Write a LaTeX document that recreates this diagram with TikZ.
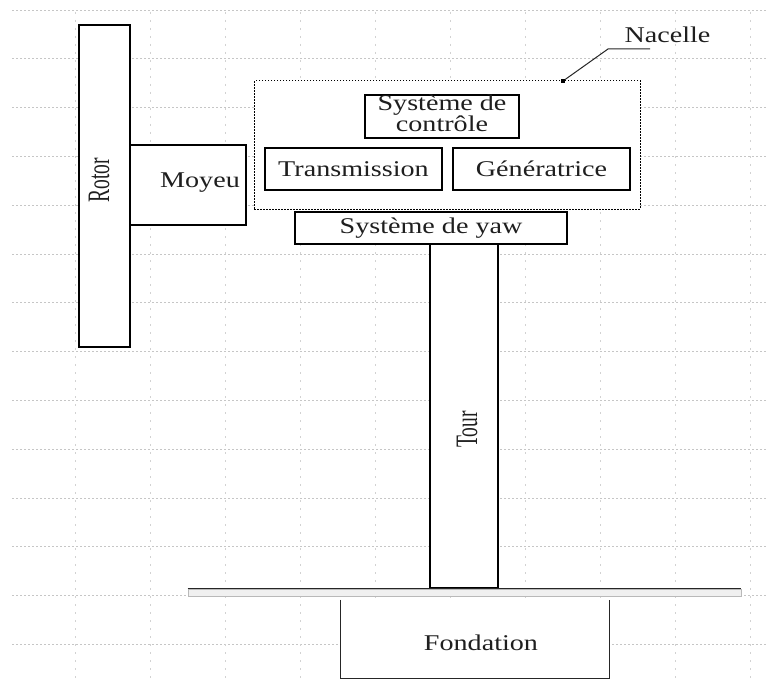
\documentclass[tikz,border=0pt]{standalone}
\usepackage{fontspec}
\setmainfont{Liberation Serif}
\usepackage{graphicx}
\usetikzlibrary{calc}
\newcommand\wtxt[1]{\scalebox{1.25}[1]{#1}}
\newcommand\vtxt[1]{\scalebox{1}[1.6]{#1}}
\begin{document}
\begin{tikzpicture}[x=1pt,y=-1pt,
  box/.style={draw=black, line width=1.2pt, fill=white, inner sep=0pt, rectangle},
  lbl/.style={inner sep=0pt, font=\fontsize{22.5}{22}\selectfont, text=black!88},
  vlbl/.style={inner sep=0pt, font=\fontsize{19.5}{22}\selectfont, text=black!88, rotate=90},
  gridh/.style={gray!45, line width=0.8pt, dash pattern=on 2pt off 2pt},
  gridv/.style={gray!35, line width=0.8pt, dash pattern=on 2pt off 6pt}]
\useasboundingbox (0,0) rectangle (768,682);
\fill[white] (0,0) rectangle (768,682);
% background grid
\foreach \k in {0,...,13} \draw[gridh] (12,10+48.8*\k) -- (768,10+48.8*\k);
\foreach \k in {0,...,9} \draw[gridv] (75.5+75*\k,12) -- (75.5+75*\k,682);
% rotor and hub
\node[box, minimum width=51pt, minimum height=322pt] (rotor) at (104.5,186) {};
\node[vlbl] (rotortxt) at (99,180.5) {\vtxt{Rotor}};
\node[box, minimum width=116pt, minimum height=80pt] (moyeu) at (188,185) {};
\node[lbl, anchor=base] (moyeutxt) at (200,187) {\wtxt{Moyeu}};
% nacelle
\node[draw=black, line width=1pt, dash pattern=on 1.5pt off 1.5pt, fill=white, rectangle,
      minimum width=386pt, minimum height=128pt, inner sep=0pt] (nacelle) at (447,145) {};
\node[box, lbl, minimum width=154pt, minimum height=43pt, align=center] (ctrl) at (442,116.5)
  {\wtxt{\begin{tabular}{@{}c@{}}Système de\\[-1.5pt]contrôle\end{tabular}}};
\node[box, lbl, minimum width=177pt, minimum height=42pt] (trans) at (353.5,169) {\wtxt{Transmission}};
\node[box, lbl, minimum width=177pt, minimum height=42pt] (gen) at (541.5,169) {\wtxt{Génératrice}};
% yaw and tower
\node[box, minimum width=68pt, minimum height=344pt] (tour) at (464,416) {};
\node[vlbl] (tourtxt) at (467,429.5) {\vtxt{Tour}};
\node[box, lbl, minimum width=272pt, minimum height=32pt] (yaw) at (431,228) {\wtxt{Système de yaw}};
% ground
\node[draw=gray!55, fill=gray!12, line width=0.8pt, rectangle, inner sep=0pt,
      minimum width=553pt, minimum height=7pt] (ground) at (464.5,592.5) {};
\draw[line width=1.3pt, black!85] (ground.north west) -- (ground.north east);
% foundation
\node[fill=white, rectangle, inner sep=0pt, minimum width=268pt, minimum height=78pt] (fond) at (475,639) {};
\draw[line width=1.3pt, black!85] (fond.north west) -- (fond.south west) -- (fond.south east) -- (fond.north east);
\node[lbl, anchor=base] (fondtxt) at (481,650) {\wtxt{Fondation}};
% nacelle label
\node[lbl, anchor=base] (naceltxt) at (667.5,43) {\wtxt{Nacelle}};
\coordinate (lead) at (563,81);
\coordinate (knee) at (608,49);
\coordinate (lend) at (650,49);
\draw[line width=1pt, black!85] (lead) -- (knee) -- (lend);
\fill[black] ($(lead)+(-2.2,-2.2)$) rectangle ($(lead)+(2.2,2.2)$);
\end{tikzpicture}
\end{document}
